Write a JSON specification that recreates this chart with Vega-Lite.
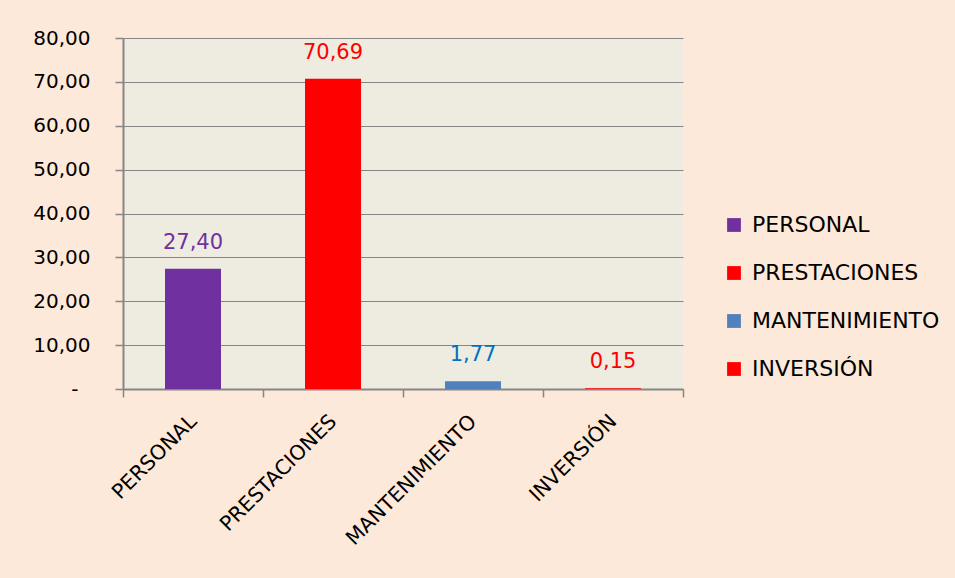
{
  "$schema": "https://vega.github.io/schema/vega-lite/v6.json",
  "autosize": {"type": "none"},
  "width": 560,
  "height": 351,
  "padding": {"left": 123, "top": 38, "right": 272, "bottom": 189},
  "background": "#FDE9D9",
  "config": {
    "locale": {"number": {"decimal": ",", "thousands": ".", "grouping": [3], "currency": ["", " €"]}},
    "view": {"fill": "#EEECE1", "stroke": null},
    "font": "DejaVu Sans",
    "axis": {"domainColor": "#868686", "tickColor": "#868686", "gridColor": "#868686", "labelColor": "#000000", "labelFont": "DejaVu Sans", "labelFontSize": 20, "domainWidth": 2, "tickWidth": 1.5}
  },
  "data": {
    "values": [
      {"cat": "PERSONAL", "value": 27.40},
      {"cat": "PRESTACIONES", "value": 70.69},
      {"cat": "MANTENIMIENTO", "value": 1.77},
      {"cat": "INVERSIÓN", "value": 0.15}
    ]
  },
  "encoding": {
    "x": {
      "field": "cat", "type": "nominal", "sort": null,
      "scale": {"paddingInner": 0, "paddingOuter": 0},
      "axis": {"title": null, "labelAngle": -45, "labelAlign": "right", "labelBaseline": "middle", "labelPadding": 21, "labelFontSize": 20.5, "tickBand": "extent", "tickSize": 8, "grid": false}
    },
    "y": {
      "field": "value", "type": "quantitative",
      "scale": {"domain": [0, 80], "nice": false},
      "axis": {"title": null, "values": [0, 10, 20, 30, 40, 50, 60, 70, 80], "tickSize": 8, "grid": true,
        "labelPadding": {"condition": {"test": "datum.value == 0", "value": 37}, "value": 25},
        "labelExpr": "datum.value == 0 ? '-' : format(datum.value, '.2f')"}
    }
  },
  "layer": [
    {
      "mark": {"type": "bar", "width": {"band": 0.4}},
      "encoding": {
        "color": {
          "field": "cat", "type": "nominal", "sort": null,
          "scale": {"domain": ["PERSONAL", "PRESTACIONES", "MANTENIMIENTO", "INVERSIÓN"], "range": ["#7030A0", "#FF0000", "#4F81BD", "#FF0000"]},
          "legend": {"title": null, "orient": "none", "legendX": 600, "legendY": 176, "symbolType": "square", "symbolSize": 190, "symbolStrokeWidth": 0, "labelFont": "DejaVu Sans", "labelFontSize": 22, "labelColor": "#000000", "labelOffset": 7, "rowPadding": 26, "labelLimit": 400}
        }
      }
    },
    {
      "mark": {"type": "text", "baseline": "alphabetic", "dy": -20, "fontSize": 21, "font": "DejaVu Sans"},
      "encoding": {
        "text": {"field": "value", "type": "quantitative", "format": ".2f"},
        "color": {
          "field": "cat", "type": "nominal", "sort": null,
          "scale": {"domain": ["PERSONAL", "PRESTACIONES", "MANTENIMIENTO", "INVERSIÓN"], "range": ["#7030A0", "#FF0000", "#0070C0", "#FF0000"]},
          "legend": null
        }
      }
    }
  ],
  "resolve": {"scale": {"color": "independent"}}
}
